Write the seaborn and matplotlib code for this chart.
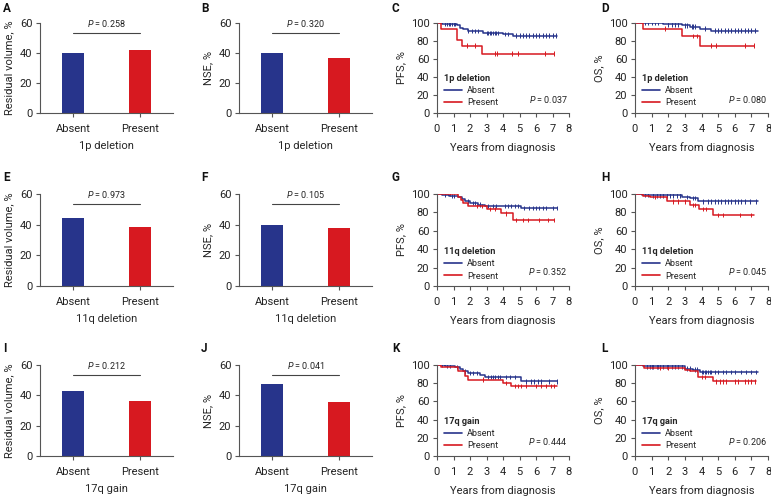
import matplotlib.pyplot as plt
import numpy as np
import pandas as pd
import seaborn as sns
from matplotlib.lines import Line2D

sns.set_theme(style="ticks")
plt.rcParams["font.family"] = ["Roboto", "DejaVu Sans"]
plt.rcParams["mathtext.fontset"] = "custom"
plt.rcParams["mathtext.it"] = "Roboto:italic"

BLUE = "#27348b"
RED = "#d71920"
SPINE = "#555555"

# ---------------------------------------------------------------------
# data
# ---------------------------------------------------------------------
groups = ["Absent", "Present"]
features = ["1p deletion", "11q deletion", "17q gain"]

resid_vol = [[40.1, 41.9], [44.1, 38.6], [42.8, 36.2]]
resid_p = ["0.258", "0.973", "0.212"]
nse = [[40.1, 36.4], [39.5, 37.9], [47.8, 35.8]]
nse_p = ["0.320", "0.105", "0.041"]

# PFS curves (time in years, survival %)
pfs_1p_abs_t = [0, 0.3, 1.2, 1.4, 1.6, 1.9, 2.8, 4.0, 4.6, 7.3]
pfs_1p_abs_s = [100, 99, 97.5, 95, 93, 91, 89, 88, 86, 86]
pfs_1p_abs_c = [0.5, 0.6, 0.7, 0.8, 0.9, 1.0, 1.1, 1.9, 2.1, 2.3, 2.5, 3.0, 3.1, 3.2,
                3.3, 3.4, 3.5, 3.6, 3.7, 4.1, 4.3, 4.8, 5.0, 5.2, 5.4, 5.6, 5.8, 6.0,
                6.2, 6.4, 6.6, 6.8, 7.0, 7.2]
pfs_1p_pre_t = [0, 0.25, 1.2, 1.5, 2.75, 7.1]
pfs_1p_pre_s = [100, 93.8, 81.5, 75, 66, 66]
pfs_1p_pre_c = [1.8, 2.3, 3.5, 3.65, 4.55, 4.9, 6.55, 7.1]

pfs_11q_abs_t = [0, 0.3, 0.7, 1.3, 1.5, 1.7, 2.0, 2.5, 2.9, 5.1, 7.3]
pfs_11q_abs_s = [100, 99, 98, 96.5, 94.5, 92, 90, 88.5, 87, 84.5, 84.5]
pfs_11q_abs_c = [0.5, 0.9, 1.0, 1.9, 2.2, 2.3, 2.6, 3.1, 3.4, 3.6, 4.1, 4.3, 4.5,
                 4.7, 4.9, 5.3, 5.6, 5.8, 6.0, 6.2, 6.4, 6.6, 7.0, 7.3]
pfs_11q_pre_t = [0, 1.3, 1.45, 1.6, 1.9, 3.0, 3.85, 4.6, 7.1]
pfs_11q_pre_s = [100, 97, 94, 90, 87, 84, 79, 72, 72]
pfs_11q_pre_c = [0.8, 2.4, 2.7, 3.2, 3.5, 4.2, 4.8, 5.2, 5.5, 6.2, 6.7, 7.1]

pfs_17q_abs_t = [0, 0.5, 1.1, 1.4, 1.6, 1.9, 2.6, 2.9, 5.1, 7.3]
pfs_17q_abs_s = [100, 99, 98, 96, 93, 91, 89, 86.5, 82, 82]
pfs_17q_abs_c = [0.3, 0.6, 0.8, 1.2, 1.7, 2.0, 2.2, 2.4, 3.1, 3.3, 3.4, 3.5, 3.7,
                 3.8, 4.2, 4.4, 4.7, 5.4, 5.7, 5.9, 6.1, 6.3, 6.8, 7.3]
pfs_17q_pre_t = [0, 0.25, 1.25, 1.7, 1.9, 4.0, 4.5, 7.3]
pfs_17q_pre_s = [100, 97.5, 93, 88, 84, 80, 77, 77]
pfs_17q_pre_c = [2.8, 4.2, 4.7, 4.9, 5.1, 5.4, 6.0, 6.3, 6.6, 6.9, 7.1]

# OS curves
os_1p_abs_t = [0, 1.7, 2.8, 3.3, 3.9, 4.6, 7.4]
os_1p_abs_s = [100, 98.5, 97.4, 96, 93.8, 91.5, 91.5]
os_1p_abs_c = [0.6, 0.8, 1.0, 1.2, 1.4, 2.0, 2.2, 2.4, 2.6, 3.0, 3.1, 3.4, 3.5, 3.6,
               4.2, 4.8, 5.0, 5.2, 5.4, 5.6, 5.8, 6.0, 6.2, 6.4, 6.6, 6.8, 7.0, 7.2]
os_1p_pre_t = [0, 0.5, 2.8, 3.9, 7.15]
os_1p_pre_s = [100, 93.8, 85.7, 75, 75]
os_1p_pre_c = [1.8, 3.5, 3.7, 4.6, 4.9, 6.6, 7.15]

os_11q_abs_t = [0, 0.4, 1.0, 2.8, 3.3, 3.8, 7.4]
os_11q_abs_s = [100, 99, 98.5, 97, 95.5, 92, 92]
os_11q_abs_c = [0.6, 0.8, 1.1, 1.3, 1.5, 1.7, 1.9, 2.1, 2.3, 2.5, 2.7, 3.1, 3.5, 3.6,
                4.1, 4.4, 4.6, 4.8, 5.0, 5.2, 5.4, 5.6, 5.8, 6.0, 6.2, 6.4, 6.6, 6.9, 7.3]
os_11q_pre_t = [0, 0.5, 0.9, 1.9, 3.3, 3.85, 4.7, 7.15]
os_11q_pre_s = [100, 98, 97, 92, 88, 84, 77, 77]
os_11q_pre_c = [1.2, 2.3, 2.6, 3.0, 3.5, 3.6, 4.1, 4.3, 5.0, 5.3, 6.3, 7.0]

os_17q_abs_t = [0, 0.5, 3.0, 3.5, 3.9, 7.4]
os_17q_abs_s = [100, 98.5, 96, 95, 92, 92]
os_17q_abs_c = [0.7, 0.9, 1.0, 1.1, 1.3, 1.4, 1.5, 1.7, 1.9, 2.0, 2.2, 2.4, 2.6, 2.8,
                3.1, 3.3, 3.6, 3.7, 4.0, 4.1, 4.2, 4.3, 4.4, 4.5, 4.6, 4.8, 5.0, 5.3,
                5.5, 5.8, 6.0, 6.4, 6.7, 7.0, 7.3]
os_17q_pre_t = [0, 0.55, 3.0, 3.3, 3.8, 4.7, 7.3]
os_17q_pre_s = [100, 97, 95, 93, 87, 82, 82]
os_17q_pre_c = [1.5, 2.0, 4.0, 4.2, 4.9, 5.1, 5.3, 5.5, 6.0, 6.2, 6.6, 6.8, 7.0, 7.2]

pfs_p = ["0.037", "0.352", "0.444"]
os_p = ["0.080", "0.045", "0.206"]

pfs_curves = [
    (pfs_1p_abs_t, pfs_1p_abs_s, pfs_1p_abs_c, pfs_1p_pre_t, pfs_1p_pre_s, pfs_1p_pre_c),
    (pfs_11q_abs_t, pfs_11q_abs_s, pfs_11q_abs_c, pfs_11q_pre_t, pfs_11q_pre_s, pfs_11q_pre_c),
    (pfs_17q_abs_t, pfs_17q_abs_s, pfs_17q_abs_c, pfs_17q_pre_t, pfs_17q_pre_s, pfs_17q_pre_c),
]
os_curves = [
    (os_1p_abs_t, os_1p_abs_s, os_1p_abs_c, os_1p_pre_t, os_1p_pre_s, os_1p_pre_c),
    (os_11q_abs_t, os_11q_abs_s, os_11q_abs_c, os_11q_pre_t, os_11q_pre_s, os_11q_pre_c),
    (os_17q_abs_t, os_17q_abs_s, os_17q_abs_c, os_17q_pre_t, os_17q_pre_s, os_17q_pre_c),
]

# ---------------------------------------------------------------------
# layout helpers (pixel boxes -> figure fractions)
# ---------------------------------------------------------------------
W, H = 771, 497
fig = plt.figure(figsize=(W / 100, H / 100), dpi=100)

col_x = [(40, 173), (239, 372), (437, 569), (635, 768)]
row_y = [(23, 113), (194, 286), (365, 456)]
letter_pos = [[(3, 2), (201, 2), (392, 2), (601, 2)],
              [(3, 171), (201, 171), (392, 171), (601, 171)],
              [(3, 342), (201, 342), (392, 342), (601, 342)]]
letters = ["ABCD", "EFGH", "IJKL"]


def rect(l, r, t, b):
    return [l / W, 1 - b / H, (r - l) / W, (b - t) / H]


def style_axis(ax):
    sns.despine(ax=ax)
    for sp in ["left", "bottom"]:
        ax.spines[sp].set_color(SPINE)
        ax.spines[sp].set_linewidth(0.8)
    ax.tick_params(axis="both", direction="out", length=3, width=0.8,
                   color=SPINE, labelsize=8, labelcolor="#222222")
    ax.tick_params(axis="x", pad=5)
    ax.tick_params(axis="y", pad=2.5)


def bar_panel(ax, vals, pval, ylabel, xlabel):
    sns.barplot(x=groups, y=vals, hue=groups, palette=[BLUE, RED], width=0.33,
                linewidth=0, saturation=1, legend=False, ax=ax)
    ax.set_xlim(-0.5, 1.5)
    ax.set_ylim(0, 60)
    ax.set_yticks([0, 20, 40, 60])
    ax.plot([0, 1], [53.5, 53.5], color="#444444", lw=0.8)
    ax.text(0.5, 56.3, rf"$\it{{P}}$ = {pval}", ha="center", va="bottom",
            fontsize=6.5, color="#222222")
    ax.set_ylabel(ylabel, fontsize=8, labelpad=4)
    ax.set_xlabel(xlabel, fontsize=8, labelpad=5)
    style_axis(ax)


def km_panel(ax, curve, pval, ylabel, feat):
    at, as_, ac, pt, ps, pc = curve
    lines = pd.DataFrame({"t": list(at) + list(pt), "s": list(as_) + list(ps),
                          "group": ["Absent"] * len(at) + ["Present"] * len(pt)})
    sns.lineplot(data=lines, x="t", y="s", hue="group", palette=[BLUE, RED],
                 drawstyle="steps-post", estimator=None, sort=False,
                 linewidth=1.1, legend=False, ax=ax)
    # censor ticks sit on the step curve
    cy_a = [as_[np.searchsorted(at, c, side="right") - 1] for c in ac]
    cy_p = [ps[np.searchsorted(pt, c, side="right") - 1] for c in pc]
    cens = pd.DataFrame({"t": list(ac) + list(pc), "s": cy_a + cy_p,
                         "group": ["Absent"] * len(ac) + ["Present"] * len(pc)})
    sns.scatterplot(data=cens, x="t", y="s", hue="group", palette=[BLUE, RED],
                    marker="|", s=10, linewidth=0.7, legend=False, ax=ax)
    ax.set_xlim(0, 8)
    ax.set_ylim(0, 100)
    ax.set_xticks(range(0, 9))
    ax.set_yticks(range(0, 101, 20))
    ax.set_xlabel("Years from diagnosis", fontsize=8, labelpad=6)
    ax.set_ylabel(ylabel, fontsize=8, labelpad=3)
    handles = [Line2D([], [], color=BLUE, lw=1.2), Line2D([], [], color=RED, lw=1.2)]
    ax.legend(handles, groups, title=feat, loc="lower left",
              bbox_to_anchor=(-0.01, -0.03), frameon=False, fontsize=6.6,
              title_fontproperties={"weight": "bold", "size": 6.6},
              handlelength=2.0, handletextpad=0.5, labelspacing=0.35,
              alignment="left")
    ax.text(0.99, 0.155, rf"$\it{{P}}$ = {pval}", transform=ax.transAxes,
            ha="right", va="center", fontsize=6.5, color="#222222")
    style_axis(ax)


for r in range(3):
    t, b = row_y[r]
    ax = fig.add_axes(rect(*col_x[0], t, b))
    bar_panel(ax, resid_vol[r], resid_p[r], "Residual volume, %", features[r])
    ax = fig.add_axes(rect(*col_x[1], t, b))
    bar_panel(ax, nse[r], nse_p[r], "NSE, %", features[r])
    ax = fig.add_axes(rect(*col_x[2], t, b))
    km_panel(ax, pfs_curves[r], pfs_p[r], "PFS, %", features[r])
    ax = fig.add_axes(rect(*col_x[3], t, b))
    km_panel(ax, os_curves[r], os_p[r], "OS, %", features[r])
    for c in range(4):
        x, y = letter_pos[r][c]
        fig.text(x / W, 1 - y / H, letters[r][c], ha="left", va="top",
                 fontsize=8.5, fontweight="bold", color="#111111")

fig.savefig("out.png", dpi=100)
